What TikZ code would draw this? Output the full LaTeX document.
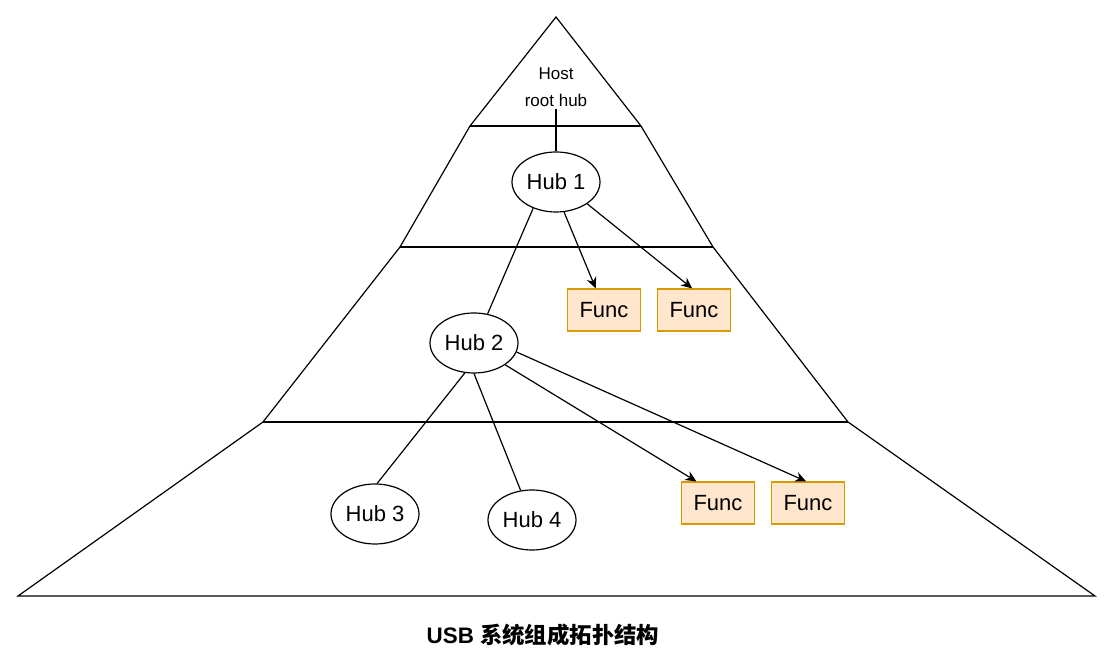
\documentclass[tikz,border=0pt]{standalone}
\usepackage{fontspec}
\setmainfont{Liberation Sans}
\newfontfamily\cjk{Noto Sans CJK SC}
\usetikzlibrary{shapes.geometric,arrows.meta}

\definecolor{funcfill}{HTML}{FFE6CC}
\definecolor{funcline}{HTML}{D79B00}

\begin{document}
\begin{tikzpicture}[x=0.5pt,y=-0.5pt,
    line width=0.6pt,
    hub/.style={draw,ellipse,minimum width=44pt,minimum height=30pt,
      inner sep=0pt,font=\fontsize{11}{13}\selectfont},
    func/.style={draw=funcline,fill=funcfill,minimum width=36.5pt,
      minimum height=21pt,inner sep=0pt,font=\fontsize{11}{13}\selectfont},
    link/.style={-{Stealth[length=5.5pt,width=5pt]}}]
  \useasboundingbox (0,0) rectangle (1119,656);

  % pyramid and tiers
  \draw (18,596) -- (263,422) -- (400,247) -- (470,126) -- (556,17)
    -- (641,126) -- (713,247) -- (848,422) -- (1095,596) -- cycle;
  \draw (470,126) -- (641,126);
  \draw (400,247) -- (713,247);
  \draw (263,422) -- (848,422);

  \node [align=center,inner sep=1pt,font=\fontsize{8.5}{13.5}\selectfont]
    (host) at (556,87) {Host\\root hub};

  \node [hub] (hub1) at (556,182) {Hub 1};
  \node [hub] (hub2) at (474,343) {Hub 2};
  \node [hub] (hub3) at (375,514) {Hub 3};
  \node [hub] (hub4) at (532,520) {Hub 4};

  \node [func] (func1) at (604,310) {Func};
  \node [func] (func2) at (694,310) {Func};
  \node [func] (func3) at (718,503) {Func};
  \node [func] (func4) at (808,503) {Func};

  \draw (host) -- (hub1.north);
  \draw (hub1.229) -- (hub2.65);
  \draw [link] (hub1.285) -- (func1.111);
  \draw [link] (hub1.325) -- (func2.95);
  \draw (hub2.253) -- (hub3.86);
  \draw (hub2.270) -- (hub4.111);
  \draw [link] (hub2.325) -- (func3.135);
  \draw [link] (hub2.348) -- (func4.95);

  \node [font=\fontsize{11.2}{13}\selectfont\bfseries] (title) at (543,635)
    {USB {\cjk 系统组成拓扑结构}};
\end{tikzpicture}
\end{document}
